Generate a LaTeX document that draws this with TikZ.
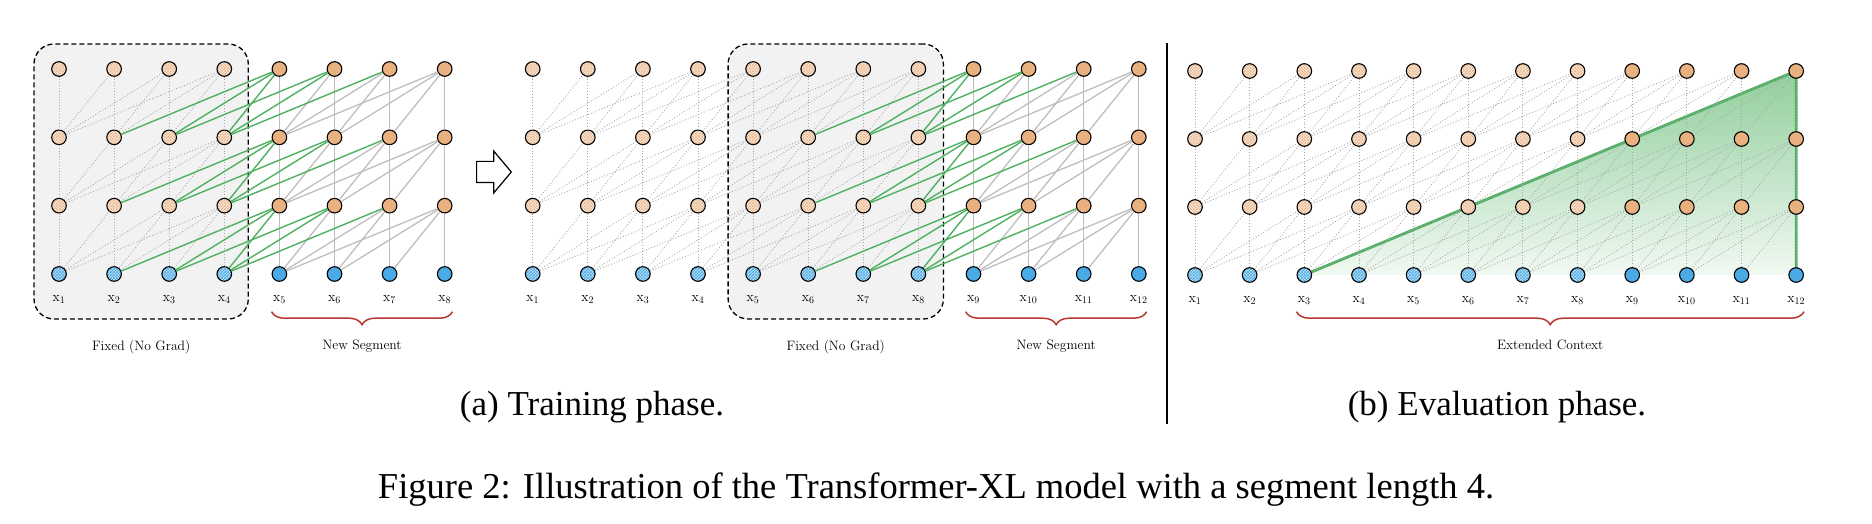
\documentclass[tikz,border=0pt]{standalone}
\usepackage{fontspec}
\newfontfamily\capfont{Liberation Serif}
\usetikzlibrary{
  shapes.arrows,              % block arrow between the two steps
  patterns,                   % hatched (cached) states
  decorations.pathreplacing,  % braces
  backgrounds,                % boxes and shading behind the graph
  fit,
  calc
}
\definecolor{hidC}{RGB}{233,176,128}
\definecolor{inpC}{RGB}{74,170,230}
\definecolor{memC}{RGB}{78,176,96}
\definecolor{braceC}{RGB}{185,55,50}
\definecolor{boxC}{RGB}{242,242,242}
\definecolor{edgeC}{RGB}{190,190,190}
\definecolor{dotC}{RGB}{168,168,168}
\def\colsep{55.1}
\def\rowsep{68.33}
\newcommand{\tok}[1]{$\mathrm{x}_{#1}$}
% prefix, number of columns, last cached column, x0, y0, dx, dy
\newcommand{\layers}[7]{%
  \foreach \i in {1,...,#2}{
    \pgfmathsetmacro\xx{#4+(\i-1)*#6}
    \ifnum\i>#3 \def\h{hid}\def\e{inp}\else\def\h{old hid}\def\e{old inp}\fi
    \node[style=\e] (#1-\i-0) at (\xx,#5) {};
    \foreach \l in {1,2,3}
      \node[style=\h] (#1-\i-\l) at (\xx,#5+\l*#7) {};
    \node[tok label] at ([yshift=-27.7pt]#1-\i-0.center) {\tok{\i}};
  }}
% prefix, number of columns, last cached column, kind to draw
\newcommand{\links}[4]{%
  \foreach \i in {1,...,#2}{
    \foreach \l [evaluate=\l as \k using int(\l-1)] in {1,2,3}{
      \foreach \d in {0,...,3}{
        \pgfmathtruncatemacro\j{\i-\d}
        \ifnum\j>0
          \ifnum\i>#3 \ifnum\j>#3 \def\kind{2}\else\def\kind{3}\fi\else\def\kind{1}\fi
          \ifnum\kind=#4
            \ifcase\kind\or\def\st{old edge}\or\def\st{new edge}\or\def\st{mem edge}\fi
            \draw[style=\st] (#1-\j-\k) -- (#1-\i-\l);
          \fi
        \fi
      }}}}
\tikzset{
  unit/.style={circle, draw, line width=1.1pt, minimum size=14.6pt, inner sep=0pt},
  hid/.style={unit, fill=hidC},
  inp/.style={unit, fill=inpC},
  old hid/.style={unit, preaction={fill=hidC!30!white}, pattern=crosshatch, pattern color=hidC!85},
  old inp/.style={unit, preaction={fill=inpC!35!white}, pattern=crosshatch, pattern color=inpC},
  old edge/.style={draw=dotC, line width=0.9pt, dotted},
  new edge/.style={draw=edgeC, line width=1.3pt},
  mem edge/.style={draw=memC, line width=1.4pt},
  ctx edge/.style={draw=memC, line width=2.8pt, line join=round},
  fixed box/.style={draw, dash pattern=on 5pt off 3pt, line width=1.3pt, fill=boxC,
    rounded corners=20pt, inner sep=0pt},
  seg brace/.style={draw=braceC, line width=1.5pt, decorate,
    decoration={brace, mirror, amplitude=13pt}},
  tok label/.style={anchor=base, inner sep=0pt, font=\fontsize{14}{16}\selectfont},
  note/.style={anchor=base, inner sep=0pt, font=\fontsize{13.6}{16}\selectfont},
  subcap/.style={anchor=base, inner sep=0pt, font=\capfont\fontsize{35}{42}\selectfont},
  figcap/.style={anchor=base, inner sep=0pt, font=\capfont\fontsize{36.5}{44}\selectfont},
  shift arrow/.style={single arrow, draw, line width=1.2pt, fill=white, inner xsep=0pt,
    inner ysep=10pt, minimum height=34.7pt, single arrow head extend=10.3pt,
    single arrow tip angle=100},
}
\begin{document}
\begin{tikzpicture}[x=1pt, y=1pt]
\useasboundingbox (0,0) rectangle (1872,524);

% (a) training: first and second segment
\layers{t1}{8}{4}{59}{250}{\colsep}{\rowsep}
\layers{t2}{12}{8}{532.7}{250}{\colsep}{\rowsep}
% (b) evaluation
\layers{ev}{12}{8}{1195}{249}{54.65}{68}

\foreach \p in {1,2,3}{
  \links{t1}{8}{4}{\p}
  \links{t2}{12}{8}{\p}}
\links{ev}{12}{12}{1}

\begin{scope}[on background layer]
  \coordinate (f1a) at ([shift={(-25,25)}]t1-1-3.center);
  \coordinate (f1b) at ([shift={(24,-45)}]t1-4-0.center);
  \coordinate (f2a) at ([shift={(-25,25)}]t2-5-3.center);
  \coordinate (f2b) at ([shift={(25,-45)}]t2-8-0.center);
  \node[fixed box, fit=(f1a)(f1b)] (fix1) {};
  \node[fixed box, fit=(f2a)(f2b)] (fix2) {};
  \shade[top color=memC!62!white, bottom color=memC!8!white]
    (ev-3-0.center) -- (ev-12-3.center) -- (ev-12-0.center) -- cycle;
  \draw[ctx edge] (ev-3-0.center) -- (ev-12-3.center) -- (ev-12-0.center);
\end{scope}

\node[note] at ([yshift=-30.8pt]fix1.south) {Fixed (No Grad)};
\node[note] at ([yshift=-30.8pt]fix2.south) {Fixed (No Grad)};

% segment braces
\draw[seg brace] ([yshift=-37.7pt]t1-5-0.west) -- ([yshift=-37.7pt]t1-8-0.east)
  node[note, midway, yshift=-37.8pt] {New Segment};
\draw[seg brace] ([yshift=-37.7pt]t2-9-0.west) -- ([yshift=-37.7pt]t2-12-0.east)
  node[note, midway, yshift=-37.8pt] {New Segment};
\draw[seg brace] ([yshift=-36.7pt]ev-3-0.west) -- ([yshift=-36.7pt]ev-12-0.east)
  node[note, midway, yshift=-37.8pt] {Extended Context};

\node[shift arrow, anchor=tail] (step) at (476,352) {};

\coordinate (div top) at (1167,481);
\coordinate (div bot) at (1167,100);
\draw[line width=2pt] (div top) -- (div bot);

\node[subcap] (cap a) at (592,108.7) {(a) Training phase.};
\node[subcap] (cap b) at (1497,108.7) {(b) Evaluation phase.};
\node[figcap] (fig cap) at (936,25.3) {Figure 2: Illustration of the Transformer-XL model with a segment length 4.};
\end{tikzpicture}
\end{document}
